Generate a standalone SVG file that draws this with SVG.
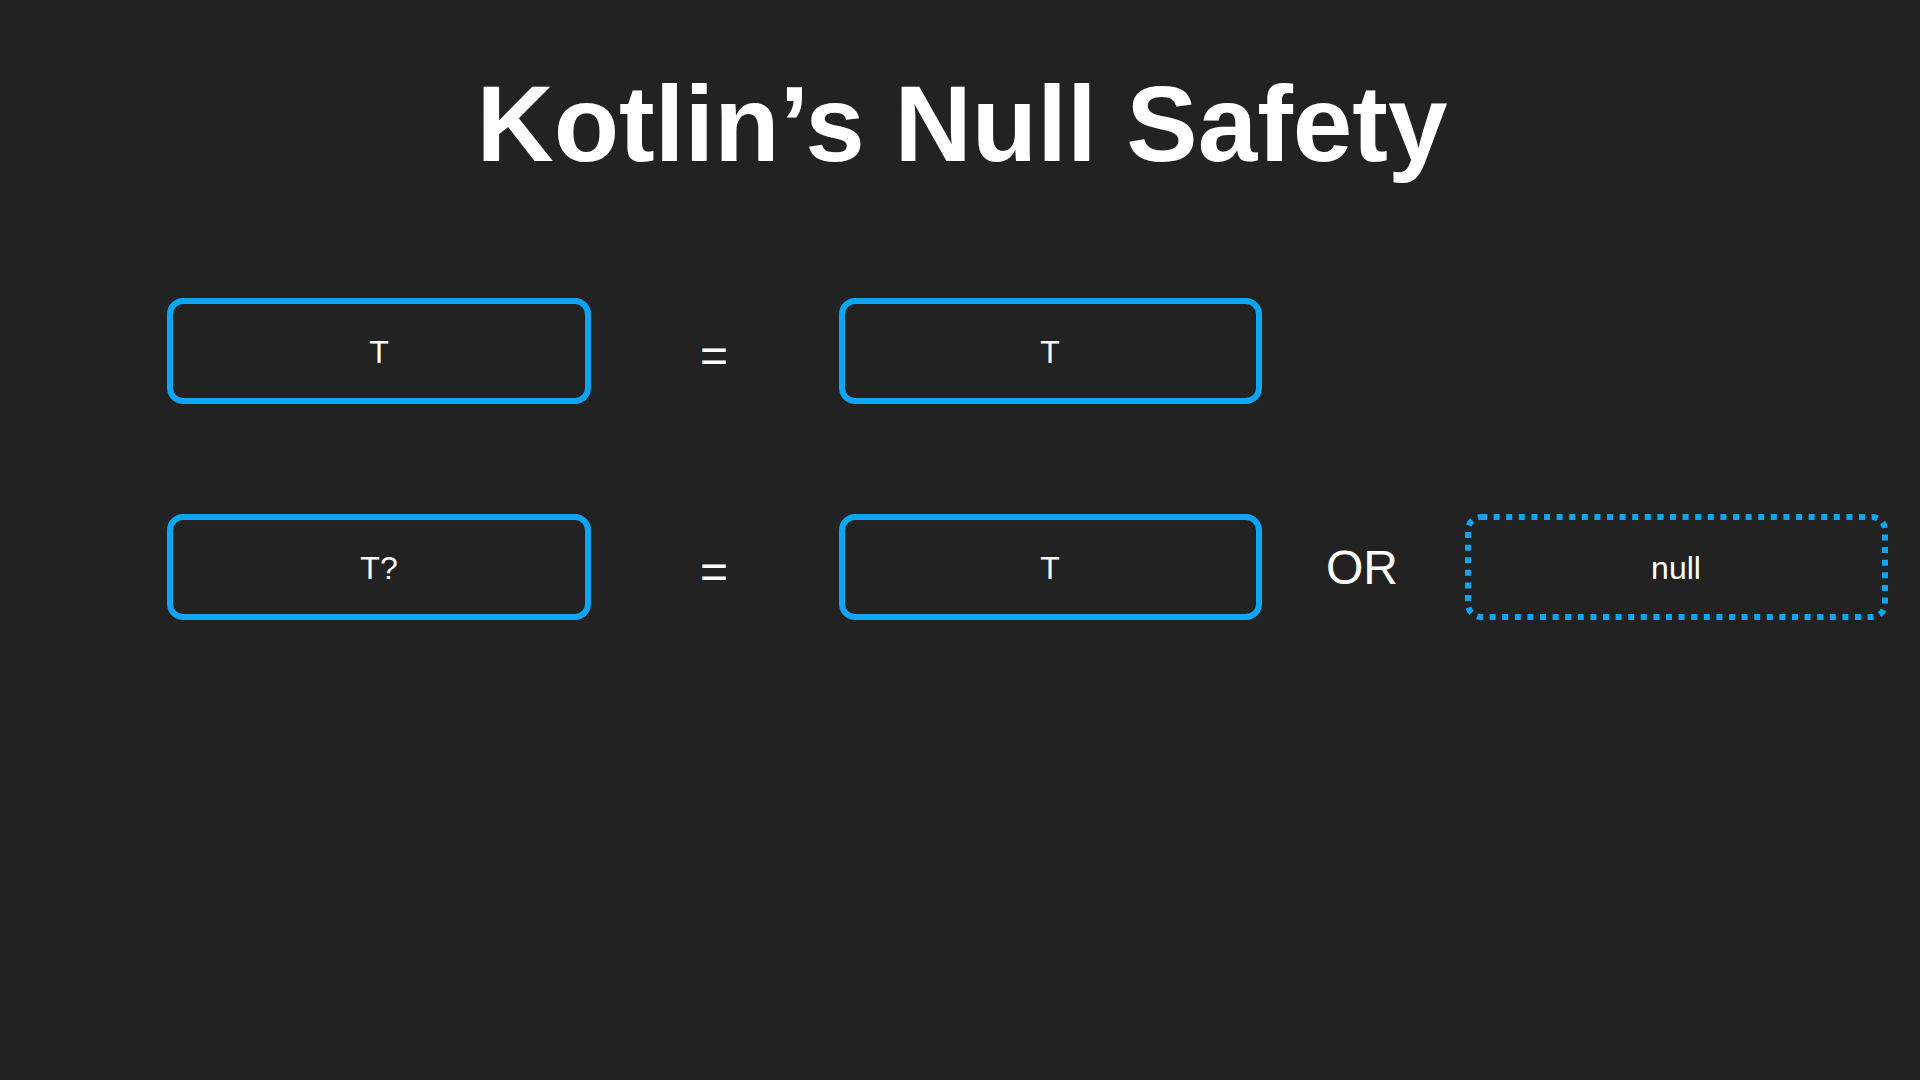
<svg xmlns="http://www.w3.org/2000/svg" width="1920" height="1080" viewBox="0 0 1920 1080">
<style>
.box{fill:none;stroke:#0ea5f5;stroke-width:6}
.dot{fill:none;stroke:#0ea5f5;stroke-width:6;stroke-dasharray:6 6.6}
.lbl{font-family:"Liberation Sans",Arial,sans-serif;font-size:32px;fill:#ffffff;text-anchor:middle}
.op{font-family:"Liberation Sans",Arial,sans-serif;font-size:48px;fill:#ffffff;text-anchor:middle}
.title{font-family:"Liberation Sans",Arial,sans-serif;font-size:107px;font-weight:bold;fill:#ffffff;text-anchor:middle}
</style>
<rect width="1920" height="1080" fill="#222222"/>
<text class="title" x="962" y="161">Kotlin’s Null Safety</text>
<g id="t-left"><rect class="box" x="170" y="301" width="418" height="100" rx="13"/><text class="lbl" x="379" y="363">T</text></g>
<g id="eq1"><text class="op" x="714" y="372">=</text></g>
<g id="t-right"><rect class="box" x="842" y="301" width="417" height="100" rx="13"/><text class="lbl" x="1050" y="363">T</text></g>
<g id="tq-left"><rect class="box" x="170" y="517" width="418" height="100" rx="13"/><text class="lbl" x="379" y="579">T?</text></g>
<g id="eq2"><text class="op" x="714" y="588">=</text></g>
<g id="t-right2"><rect class="box" x="842" y="517" width="417" height="100" rx="13"/><text class="lbl" x="1050" y="579">T</text></g>
<g id="or"><text class="op" x="1362" y="584">OR</text></g>
<g id="null"><rect class="dot" x="1468" y="517" width="417" height="100" rx="13"/><text class="lbl" x="1676" y="579">null</text></g>
<g id="connectors"></g>
</svg>
